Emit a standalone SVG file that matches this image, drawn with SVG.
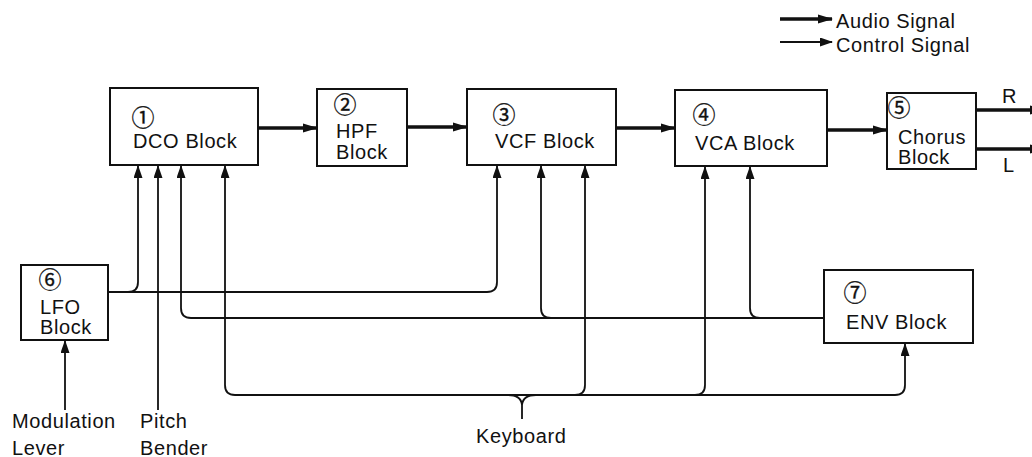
<svg xmlns="http://www.w3.org/2000/svg" width="1032" height="457" viewBox="0 0 1032 457">
<defs>
<style>
.box{fill:#fff;stroke:#111;stroke-width:2}
.t{font-family:"Liberation Sans",Arial,sans-serif;font-size:20px;letter-spacing:0.6px;fill:#111}
.n{font-family:"Noto Sans CJK JP","DejaVu Sans",sans-serif;font-size:23px;fill:#111;text-anchor:middle;stroke:#111;stroke-width:0.3}
.au{fill:none;stroke:#111;stroke-width:3.5}
.ct{fill:none;stroke:#111;stroke-width:1.8}
</style>
<marker id="ah" markerUnits="userSpaceOnUse" markerWidth="16" markerHeight="10" refX="14" refY="5" orient="auto">
<path d="M0,0.5 L15,5 L0,9.5 z" fill="#111"/>
</marker>
<marker id="ch" markerUnits="userSpaceOnUse" markerWidth="14" markerHeight="10" refX="12" refY="4.5" orient="auto">
<path d="M0,0 L13,4.5 L0,9 z" fill="#111"/>
</marker>
</defs>
<rect width="1032" height="457" fill="#fff"/>

<g id="legend">
<path class="au" d="M780,19 H832" marker-end="url(#ah)"/>
<path class="ct" d="M780,42 H832" marker-end="url(#ch)"/>
<text class="t" x="836" y="28">Audio Signal</text>
<text class="t" x="836" y="52">Control Signal</text>
</g>

<g id="connectors">
<path class="au" d="M258,128 H317" marker-end="url(#ah)"/>
<path class="au" d="M407,127 H467" marker-end="url(#ah)"/>
<path class="au" d="M616,128 H675" marker-end="url(#ah)"/>
<path class="au" d="M827,130 H887" marker-end="url(#ah)"/>
<path class="au" d="M976,110 H1044" marker-end="url(#ah)"/>
<path class="au" d="M976,149 H1044" marker-end="url(#ah)"/>
<path class="ct" d="M108,292 H128 Q138,292 138,282 V166" marker-end="url(#ch)"/>
<path class="ct" d="M128,292 H487 Q497,292 497,282 V166" marker-end="url(#ch)"/>
<path class="ct" d="M158,410 V166" marker-end="url(#ch)"/>
<path class="ct" d="M65,410 V341" marker-end="url(#ch)"/>
<path class="ct" d="M824,318 H191 Q181,318 181,308 V166" marker-end="url(#ch)"/>
<path class="ct" d="M551,318 Q541,318 541,308 V166" marker-end="url(#ch)"/>
<path class="ct" d="M760,318 Q750,318 750,308 V167" marker-end="url(#ch)"/>
<path class="ct" d="M895,395 Q905,395 905,385 V344" marker-end="url(#ch)"/>
<path class="ct" d="M895,395 H235 Q225,395 225,385 V166" marker-end="url(#ch)"/>
<path class="ct" d="M575,395 Q585,395 585,385 V166" marker-end="url(#ch)"/>
<path class="ct" d="M695,395 Q705,395 705,385 V167" marker-end="url(#ch)"/>
<path class="ct" d="M508,395 Q521,395 522,405 Q523,395 536,395 M522,405 V419"/>
</g>

<g id="dco">
<rect class="box" x="110" y="88" width="148" height="77"/>
<text class="n" x="143" y="126">①</text>
<text class="t" x="133" y="148">DCO Block</text>
</g>
<g id="hpf">
<rect class="box" x="317" y="89" width="90" height="77"/>
<text class="n" x="345" y="113">②</text>
<text class="t" x="336" y="138">HPF</text>
<text class="t" x="336" y="159">Block</text>
</g>
<g id="vcf">
<rect class="box" x="467" y="89" width="149" height="76"/>
<text class="n" x="504" y="123">③</text>
<text class="t" x="495" y="148">VCF Block</text>
</g>
<g id="vca">
<rect class="box" x="675" y="90" width="152" height="76"/>
<text class="n" x="704" y="123">④</text>
<text class="t" x="695" y="150">VCA Block</text>
</g>
<g id="chorus">
<rect class="box" x="887" y="93" width="89" height="76"/>
<text class="n" x="899" y="116">⑤</text>
<text class="t" x="898" y="144">Chorus</text>
<text class="t" x="898" y="164">Block</text>
<text class="t" x="1002" y="103">R</text>
<text class="t" x="1003" y="172">L</text>
</g>
<g id="lfo">
<rect class="box" x="21" y="265" width="87" height="75"/>
<text class="n" x="50" y="288">⑥</text>
<text class="t" x="40" y="314">LFO</text>
<text class="t" x="40" y="334">Block</text>
</g>
<g id="env">
<rect class="box" x="824" y="270" width="149" height="73"/>
<text class="n" x="855" y="301">⑦</text>
<text class="t" x="846" y="329">ENV Block</text>
</g>
<g id="inputs">
<text class="t" x="12" y="428">Modulation</text>
<text class="t" x="12" y="455">Lever</text>
<text class="t" x="140" y="428">Pitch</text>
<text class="t" x="140" y="455">Bender</text>
<text class="t" x="476" y="443">Keyboard</text>
</g>
</svg>
